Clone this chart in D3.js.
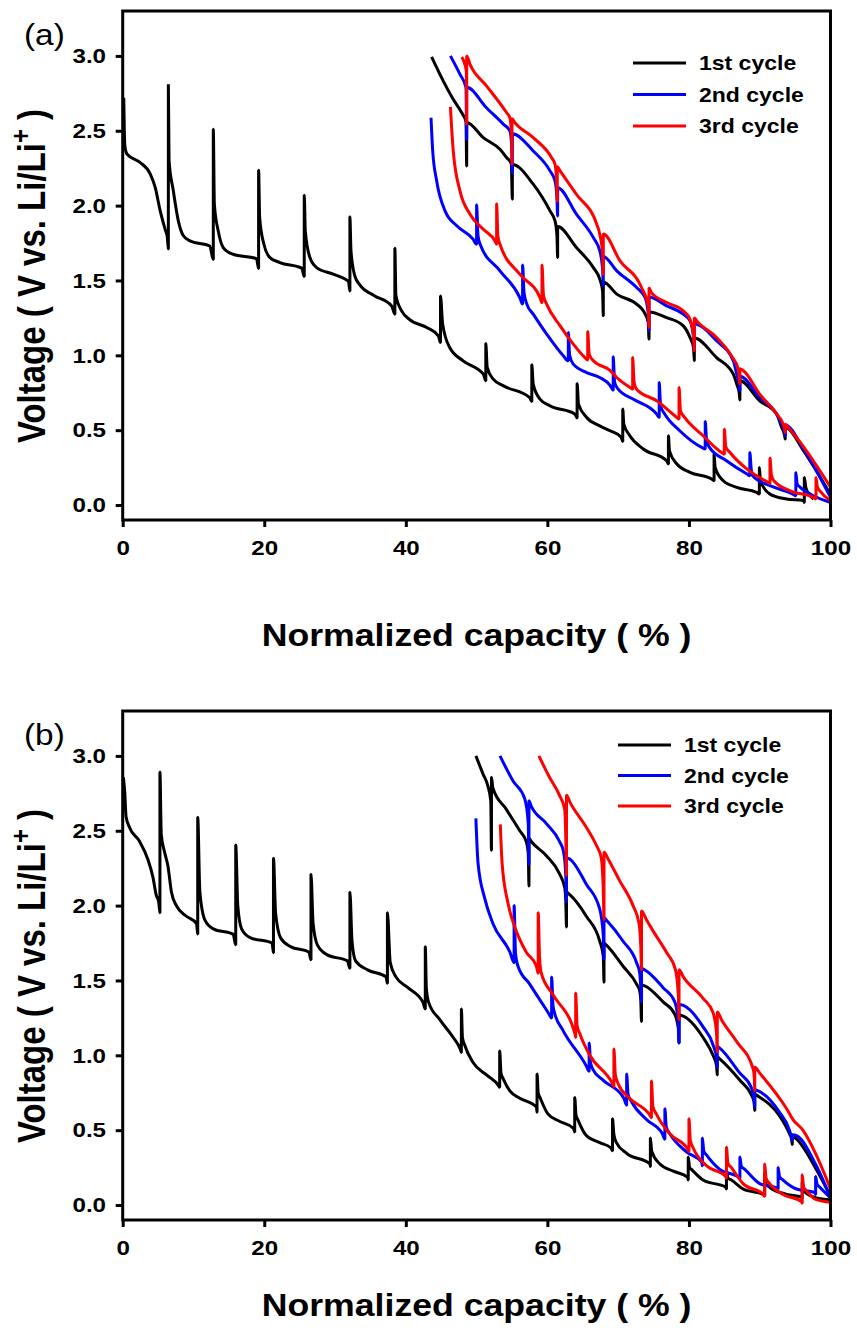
<!DOCTYPE html>
<html>
<head>
<meta charset="utf-8">
<script src="https://cdn.jsdelivr.net/npm/d3@7"></script>
<style>
  body { margin: 0; background: #fff; }
  text { font-family: "Liberation Sans", Arial, sans-serif; }
</style>
</head>
<body>
<svg id="chart" width="857" height="1328"></svg>
<script>
// x = normalized capacity (%), y = voltage (V)
const xTicks = [0, 20, 40, 60, 80, 100];
const yTicks = [0, 0.5, 1.0, 1.5, 2.0, 2.5, 3.0];
const cycleNames = ["1st cycle", "2nd cycle", "3rd cycle"];
const cycleColors = ["#000000", "#0000ff", "#ff0000"];

// panel (a): discharge (lower, spikes up) and charge (upper, spikes down)
const aDis1 = [[0.15,2.72],[0.3,2.40],[0.6,2.345],[2.4,2.29],[3.9,2.21],[4.6,2.12],[5.3,1.965],[6.0,1.84],[6.3,1.79],[6.45,1.71],
  [6.45,2.81],[6.55,2.30],[7.15,2.10],[7.85,1.90],[8.55,1.80],[9.5,1.764],[12.3,1.73],[12.8,1.64],
  [12.8,2.51],[12.95,2.01],[13.5,1.83],[14.2,1.72],[15.6,1.675],[18.9,1.646],[19.2,1.58],
  [19.2,2.236],[19.35,1.92],[19.95,1.742],[20.8,1.653],[22.2,1.62],[25.3,1.582],[25.65,1.526],
  [25.65,2.07],[25.8,1.83],[26.45,1.653],[27.4,1.586],[29.75,1.542],[31.9,1.493],[32.1,1.43],
  [32.1,1.925],[32.25,1.70],[32.8,1.53],[33.5,1.47],[35.5,1.40],[38.0,1.33],[38.45,1.275],
  [38.45,1.716],[38.6,1.40],[39.5,1.29],[40.5,1.24],[42.95,1.186],[44.6,1.13],[44.9,1.085],
  [44.9,1.397],[45.2,1.21],[46.2,1.052],[48.1,0.963],[50.95,0.874],[51.3,0.83],
  [51.3,1.079],[51.5,0.92],[52.35,0.841],[53.8,0.796],[57.5,0.718],[57.8,0.692],
  [57.8,0.937],[58.0,0.808],[58.95,0.708],[60.35,0.663],[63.9,0.607],[64.2,0.581],
  [64.2,0.812],[64.4,0.674],[65.55,0.585],[67.4,0.529],[68.85,0.496],[70.4,0.455],[70.65,0.425],
  [70.65,0.641],[70.8,0.54],[71.65,0.463],[73.55,0.374],[76.85,0.296],[77.1,0.274],
  [77.1,0.463],[77.25,0.362],[78.3,0.274],[80.15,0.218],[83.2,0.174],[83.55,0.162],
  [83.55,0.34],[83.7,0.251],[84.85,0.162],[86.75,0.118],[89.55,0.084],[89.95,0.073],
  [89.95,0.251],[90.1,0.162],[91.45,0.073],[93.8,0.04],[96.2,0.029],[96.3,0.017],
  [96.3,0.184],[96.5,0.12],[97.0,0.07],[97.6,0.04]];
const aChg1 = [[43.65,2.993],[45.3,2.832],[46.7,2.71],[47.9,2.62],[48.5,2.56],[48.6,2.265],[48.6,2.555],
  [50.95,2.454],[53.3,2.376],[54.25,2.32],[54.9,2.28],[55.05,2.043],[55.05,2.275],
  [58.0,2.143],[60.37,1.965],[61.08,1.898],[61.35,1.80],[61.45,1.653],[61.45,1.86],
  [64.1,1.72],[66.5,1.586],[67.4,1.509],[67.8,1.43],[67.9,1.264],[67.9,1.49],
  [69.8,1.409],[72.6,1.342],[73.55,1.297],[74.25,1.22],[74.36,1.108],[74.36,1.29],
  [76.86,1.252],[79.2,1.197],[80.15,1.119],[80.65,1.05],[80.76,0.963],[80.76,1.115],
  [83.9,0.985],[86.27,0.874],[86.75,0.808],[87.1,0.75],[87.2,0.701],[87.2,0.83],
  [90.0,0.696],[92.4,0.607],[93.1,0.518],[93.5,0.47],[93.6,0.44],[93.6,0.52],
  [96.2,0.362],[98.0,0.229],[100,0.07]];
const aChg2 = [[46.3,3.0],[47.65,2.877],[48.5,2.79],[48.6,2.443],[48.6,2.79],
  [51.4,2.654],[53.8,2.543],[54.7,2.499],[54.95,2.40],[55.05,2.22],[55.05,2.48],
  [58.0,2.365],[60.37,2.232],[61.08,2.165],[61.35,2.05],[61.45,1.931],[61.45,2.12],
  [64.1,1.943],[66.5,1.786],[67.4,1.698],[67.8,1.58],[67.9,1.464],[67.9,1.66],
  [69.8,1.564],[72.6,1.453],[73.8,1.386],[74.25,1.28],[74.36,1.164],[74.36,1.39],
  [76.86,1.33],[79.2,1.275],[80.15,1.23],[80.65,1.12],[80.76,1.03],[80.76,1.21],
  [83.9,1.097],[86.27,0.963],[86.75,0.874],[87.1,0.80],[87.2,0.763],[87.2,0.86],
  [90.0,0.718],[92.4,0.607],[93.1,0.541],[93.5,0.49],[93.6,0.463],[93.6,0.535],
  [96.2,0.373],[98.0,0.229],[100,0.051]];
const aChg3 = [[47.9,2.993],[48.55,2.90],[48.6,2.543],[48.6,3.0],
  [49.07,2.944],[51.4,2.8],[54.25,2.62],[54.7,2.587],[54.95,2.45],[55.0,2.276],[55.0,2.58],
  [55.4,2.554],[58.0,2.454],[60.6,2.32],[61.08,2.276],[61.3,2.17],[61.4,2.03],[61.4,2.26],
  [61.8,2.232],[64.1,2.076],[66.97,1.876],[67.4,1.809],[67.8,1.68],[67.9,1.542],[67.9,1.81],
  [70.26,1.631],[73.3,1.453],[74.25,1.33],[74.36,1.186],[74.36,1.45],
  [74.7,1.419],[76.86,1.353],[79.2,1.297],[80.15,1.241],[80.65,1.13],[80.76,1.03],[80.76,1.25],
  [81.1,1.23],[83.9,1.119],[86.0,0.997],[86.97,0.908],[87.1,0.85],[87.2,0.808],[87.2,0.91],
  [87.7,0.897],[90.0,0.741],[92.4,0.607],[93.3,0.541],[93.55,0.50],[93.6,0.485],[93.6,0.54],
  [94.0,0.519],[96.6,0.362],[98.5,0.229],[100,0.12]];
const aDis2 = [[43.56,2.587],[43.8,2.365],[44.36,2.165],[45.54,1.965],[47.2,1.865],[49.5,1.776],[50.0,1.742],
  [50.0,2.005],[50.2,1.80],[50.5,1.742],[53.3,1.564],[56.1,1.386],[56.5,1.342],
  [56.5,1.604],[56.7,1.42],[57.1,1.342],[58.0,1.275],[59.9,1.142],[62.25,0.997],[62.96,0.963],
  [62.96,1.152],[63.15,1.0],[63.66,0.941],[65.55,0.885],[67.4,0.852],[68.85,0.80],[69.3,0.767],
  [69.3,0.99],[69.5,0.82],[70.0,0.774],[72.1,0.708],[75.45,0.607],[75.8,0.585],
  [75.8,0.818],[76.0,0.66],[76.6,0.607],[78.7,0.496],[81.8,0.385],[82.3,0.374],
  [82.3,0.558],[82.5,0.43],[82.9,0.385],[85.3,0.296],[88.2,0.207],[88.6,0.196],
  [88.6,0.351],[88.8,0.24],[89.0,0.196],[91.45,0.129],[94.7,0.073],[95.1,0.062],
  [95.1,0.218],[95.3,0.14],[95.7,0.12],[97.6,0.062],[100,0.017]];
const aDis3 = [[46.3,2.659],[46.7,2.365],[47.65,2.098],[49.07,1.943],[50.95,1.842],[52.6,1.764],[52.83,1.742],
  [52.83,2.013],[53.0,1.80],[53.3,1.742],[56.1,1.542],[58.96,1.386],[59.24,1.352],
  [59.24,1.604],[59.45,1.40],[59.9,1.342],[61.8,1.197],[63.66,1.075],[65.3,0.985],[65.7,0.968],
  [65.7,1.159],[65.9,1.01],[66.5,0.963],[68.85,0.9],[69.8,0.852],[71.67,0.785],[72.05,0.774],
  [72.05,0.985],[72.25,0.82],[72.6,0.774],[75.45,0.696],[78.3,0.585],[78.6,0.574],
  [78.6,0.785],[78.8,0.63],[79.4,0.585],[82.0,0.463],[84.6,0.351],[85.0,0.34],
  [85.0,0.507],[85.2,0.39],[85.8,0.351],[88.2,0.24],[91.2,0.151],[91.45,0.144],
  [91.45,0.314],[91.65,0.2],[92.0,0.162],[94.3,0.095],[97.6,0.051],[97.95,0.04],
  [97.95,0.184],[98.15,0.12],[98.5,0.095],[100,0.029]];

// panel (b)
const bDis1 = [[0.1,2.857],[0.3,2.75],[0.47,2.595],[0.95,2.524],[2.37,2.43],[3.55,2.31],[4.27,2.19],[4.74,2.07],[5.1,2.02],[5.26,1.952],
  [5.26,2.893],[5.45,2.476],[5.92,2.357],[6.4,2.262],[6.87,2.095],[7.58,2.0],[9.0,1.929],[10.43,1.88],[10.6,1.81],
  [10.6,2.59],[10.9,2.095],[11.6,1.905],[12.8,1.845],[15.6,1.81],[15.97,1.738],
  [15.97,2.405],[16.26,2.0],[16.8,1.845],[18.0,1.786],[21.1,1.75],[21.3,1.686],
  [21.3,2.317],[21.6,1.952],[22.3,1.786],[23.7,1.726],[26.3,1.69],[26.6,1.638],
  [26.6,2.21],[26.9,1.881],[27.5,1.738],[28.9,1.671],[31.75,1.631],[32.1,1.581],
  [32.1,2.09],[32.4,1.762],[32.9,1.631],[34.6,1.571],[37.2,1.524],[37.4,1.481],
  [37.4,1.952],[37.8,1.619],[38.6,1.524],[40.3,1.452],[42.4,1.357],[42.75,1.31],
  [42.75,1.726],[42.9,1.45],[43.2,1.357],[44.8,1.238],[46.7,1.119],[47.7,1.04],[47.85,1.019],
  [47.85,1.31],[48.0,1.12],[48.3,1.071],[49.5,0.952],[51.4,0.869],[53.1,0.798],[53.26,0.786],
  [53.26,1.029],[53.45,0.88],[53.8,0.84],[54.7,0.762],[56.1,0.714],[58.45,0.655],[58.54,0.619],
  [58.54,0.876],[58.7,0.75],[59.0,0.714],[60.1,0.607],[61.7,0.56],[63.7,0.512],[63.86,0.488],
  [63.86,0.719],[64.05,0.60],[64.3,0.571],[65.5,0.464],[67.4,0.417],[69.0,0.381],[69.2,0.362],
  [69.2,0.576],[69.4,0.47],[69.75,0.417],[71.2,0.345],[74.5,0.274],[74.55,0.257],
  [74.55,0.448],[74.75,0.357],[75.9,0.274],[77.8,0.226],[79.8,0.186],[79.9,0.167],
  [79.9,0.321],[80.1,0.25],[80.35,0.238],[82.0,0.167],[85.2,0.119],[85.3,0.107],
  [85.3,0.238],[85.5,0.18],[86.0,0.167],[87.65,0.107],[90.5,0.071],[90.7,0.06],
  [90.7,0.214],[90.9,0.14],[91.4,0.119],[93.8,0.071],[95.9,0.052],[96.0,0.045],
  [96.0,0.15],[96.3,0.09],[98.0,0.048],[100,0.036]];
const bChg1 = [[49.9,3.0],[50.9,2.88],[51.6,2.798],[52.0,2.70],[52.1,2.37],[52.1,2.857],
  [52.3,2.786],[54.2,2.643],[56.1,2.5],[57.0,2.43],[57.3,2.35],[57.4,2.131],[57.4,2.45],
  [57.7,2.43],[59.86,2.333],[61.7,2.214],[62.45,2.119],[62.6,2.03],[62.7,1.857],[62.7,2.09],
  [63.2,2.071],[65.5,1.929],[67.4,1.762],[67.9,1.66],[68.0,1.488],[68.0,1.75],
  [68.3,1.738],[70.7,1.595],[72.6,1.476],[73.05,1.429],[73.2,1.36],[73.3,1.226],[73.3,1.47],
  [73.75,1.464],[76.35,1.357],[78.0,1.274],[78.5,1.18],[78.6,1.083],[78.6,1.27],
  [79.2,1.262],[82.0,1.119],[83.4,1.0],[83.9,0.93],[84.0,0.869],[84.0,0.99],
  [84.35,0.976],[87.2,0.833],[88.8,0.738],[89.2,0.69],[89.3,0.631],[89.3,0.74],
  [89.8,0.726],[92.8,0.595],[94.2,0.476],[94.5,0.44],[94.6,0.405],[94.6,0.46],
  [95.2,0.44],[98.0,0.238],[100,0.06]];
const bChg2 = [[53.3,3.0],[55.15,2.833],[56.8,2.714],[57.3,2.55],[57.4,2.274],[57.4,2.70],
  [57.7,2.667],[59.86,2.548],[61.7,2.43],[62.3,2.357],[62.6,2.20],[62.7,2.024],[62.7,2.32],
  [63.2,2.31],[65.5,2.143],[67.4,1.976],[67.9,1.80],[68.0,1.643],[68.0,1.92],
  [68.3,1.905],[70.7,1.762],[72.6,1.619],[73.05,1.548],[73.2,1.45],[73.3,1.357],[73.3,1.58],
  [73.75,1.571],[76.35,1.452],[78.0,1.357],[78.5,1.22],[78.6,1.083],[78.6,1.34],
  [79.2,1.333],[82.0,1.19],[83.4,1.071],[83.9,0.98],[84.0,0.917],[84.0,1.06],
  [84.35,1.048],[87.2,0.881],[88.8,0.786],[89.2,0.70],[89.3,0.655],[89.3,0.77],
  [89.8,0.762],[92.8,0.619],[94.2,0.5],[94.5,0.45],[94.6,0.429],[94.6,0.47],
  [95.2,0.464],[98.0,0.262],[100,0.048]];
const bChg3 = [[58.8,3.0],[60.3,2.857],[61.7,2.738],[62.45,2.643],[62.6,2.45],[62.7,2.202],[62.7,2.738],
  [63.2,2.69],[65.5,2.524],[66.9,2.405],[67.6,2.321],[67.9,2.10],[68.0,1.905],[68.0,2.357],
  [68.6,2.31],[70.2,2.167],[72.1,2.0],[72.95,1.881],[73.2,1.72],[73.3,1.571],[73.3,1.964],
  [74.0,1.905],[74.9,1.833],[76.8,1.69],[78.1,1.571],[78.5,1.40],[78.6,1.238],[78.6,1.571],
  [79.2,1.524],[82.0,1.381],[83.4,1.286],[83.9,1.15],[84.0,1.024],[84.0,1.29],
  [84.6,1.238],[86.7,1.095],[89.1,0.905],[89.25,0.83],[89.3,0.762],[89.3,0.92],
  [90.0,0.881],[93.8,0.643],[94.7,0.571],[96.1,0.5],[98.0,0.333],[100,0.107]];
const bDis2 = [[49.9,2.583],[50.2,2.286],[51.15,2.048],[52.3,1.881],[54.7,1.69],[55.3,1.619],
  [55.3,2.0],[55.5,1.68],[55.85,1.595],[57.5,1.476],[60.1,1.286],[60.6,1.25],
  [60.6,1.524],[60.8,1.33],[61.0,1.286],[62.2,1.167],[65.5,0.929],[65.9,0.893],
  [65.9,1.083],[66.1,0.95],[66.45,0.905],[67.9,0.833],[70.8,0.714],[71.2,0.667],
  [71.2,0.876],[71.4,0.74],[71.9,0.69],[74.0,0.571],[76.25,0.476],[76.6,0.44],
  [76.6,0.643],[76.8,0.52],[77.3,0.476],[79.6,0.357],[81.8,0.286],[81.9,0.262],
  [81.9,0.448],[82.1,0.36],[82.5,0.333],[84.35,0.238],[86.9,0.19],[87.2,0.179],
  [87.2,0.321],[87.4,0.26],[87.9,0.238],[90.0,0.143],[92.4,0.114],[92.6,0.107],
  [92.6,0.25],[92.8,0.19],[93.3,0.167],[95.2,0.107],[97.8,0.083],[97.9,0.071],
  [97.9,0.19],[98.1,0.14],[98.5,0.119],[100,0.048]];
const bDis3 = [[53.35,2.543],[53.6,2.286],[54.4,2.024],[55.4,1.857],[57.0,1.69],[58.45,1.595],[58.7,1.548],
  [58.7,1.952],[58.9,1.65],[59.15,1.548],[60.8,1.405],[63.9,1.143],[64.0,1.119],
  [64.0,1.417],[64.2,1.2],[64.6,1.143],[66.0,1.0],[69.2,0.81],[69.4,0.79],
  [69.4,1.043],[69.6,0.87],[70.0,0.81],[71.6,0.714],[74.55,0.595],[74.7,0.583],
  [74.7,0.829],[74.9,0.66],[75.4,0.607],[77.3,0.476],[79.9,0.369],[80.0,0.357],
  [80.0,0.576],[80.2,0.43],[80.6,0.381],[82.5,0.262],[85.2,0.19],[85.3,0.179],
  [85.3,0.386],[85.5,0.28],[86.0,0.25],[87.65,0.143],[90.5,0.071],[90.7,0.06],
  [90.7,0.274],[90.9,0.18],[91.4,0.143],[93.3,0.071],[95.9,0.024],[96.0,0.012],
  [96.0,0.202],[96.2,0.12],[96.6,0.095],[98.0,0.036],[100,0.019]];

const panels = [
  { label: "(a)", top: 11, legendX: 633, legendY: 63, legendGap: 31.5, xTitleY: 646,
    curves: [[aDis1, 0], [aChg1, 0], [aDis2, 1], [aChg2, 1], [aDis3, 2], [aChg3, 2]] },
  { label: "(b)", top: 711, legendX: 618, legendY: 745, legendGap: 30.5, xTitleY: 1316,
    curves: [[bDis1, 0], [bChg1, 0], [bDis2, 1], [bChg2, 1], [bDis3, 2], [bChg3, 2]] }
];

const left = 122.7, right = 830.5, plotH = 509;
const stretch = 1.15; // the original figure is a little wider than its fonts
const svg = d3.select("#chart");

panels.forEach(p => {
  const x = d3.scaleLinear().domain([0, 100]).range([left, right]);
  const y = d3.scaleLinear().domain([-0.1, 3.3]).range([p.top + plotH, p.top]);
  const g = svg.append("g");

  const line = d3.line()
    .x(d => x(d[0]))
    .y(d => y(d[1]))
    .curve(d3.curveMonotoneX);

  p.curves.forEach(([data, ci]) => {
    g.append("path")
      .attr("d", line(data))
      .attr("fill", "none")
      .attr("stroke", cycleColors[ci])
      .attr("stroke-width", 3)
      .attr("stroke-linejoin", "bevel");
  });

  // axes
  const yAxis = d3.axisLeft(y).tickValues(yTicks).tickFormat(d3.format(".1f"))
    .tickSize(7).tickPadding(7.5).tickSizeOuter(0);
  const gy = g.append("g").attr("transform", `translate(${left},0)`).call(yAxis);
  const xAxis = d3.axisBottom(x).tickValues(xTicks).tickFormat(d3.format("d"))
    .tickSize(7).tickPadding(13).tickSizeOuter(0);
  const gx = g.append("g").attr("transform", `translate(0,${p.top + plotH})`).call(xAxis);
  [gx, gy].forEach(a => {
    a.select(".domain").remove();
    a.selectAll(".tick line").attr("stroke", "#000").attr("stroke-width", 3);
    a.selectAll(".tick text").attr("fill", "#000").attr("font-size", 21).attr("font-weight", "bold")
      .attr("font-family", "'Liberation Sans', Arial, sans-serif")
      .attr("transform", `scale(${stretch},1)`);
  });

  g.append("rect")
    .attr("x", left).attr("y", p.top)
    .attr("width", right - left).attr("height", plotH)
    .attr("fill", "none").attr("stroke", "#000").attr("stroke-width", 3);

  // panel label
  g.append("text").attr("transform", `translate(24,${p.top + 34}) scale(${stretch},1)`)
    .attr("font-size", 29).text(p.label);

  // axis titles
  const yt = g.append("text")
    .attr("transform", `translate(45,${p.top + 265}) rotate(-90) scale(1,${stretch})`)
    .attr("text-anchor", "middle").attr("font-size", 33).attr("font-weight", "bold");
  yt.append("tspan").text("Voltage ( V vs. Li/Li");
  yt.append("tspan").attr("baseline-shift", "super").attr("font-size", 24).text("+");
  yt.append("tspan").text(" )");

  g.append("text")
    .attr("transform", `translate(${(left + right) / 2},${p.xTitleY}) scale(${stretch},1)`)
    .attr("text-anchor", "middle").attr("font-size", 31).attr("font-weight", "bold")
    .text("Normalized capacity ( % )");

  // legend
  const lg = g.append("g").attr("transform", `translate(${p.legendX},${p.legendY})`);
  cycleNames.forEach((name, i) => {
    lg.append("line").attr("x1", 0).attr("x2", 53)
      .attr("y1", i * p.legendGap).attr("y2", i * p.legendGap)
      .attr("stroke", cycleColors[i]).attr("stroke-width", 3);
    lg.append("text").attr("transform", `translate(66,${i * p.legendGap}) scale(${stretch},1)`)
      .attr("dy", "0.35em").attr("font-size", 20).attr("font-weight", "bold").text(name);
  });
});
</script>
</body>
</html>
